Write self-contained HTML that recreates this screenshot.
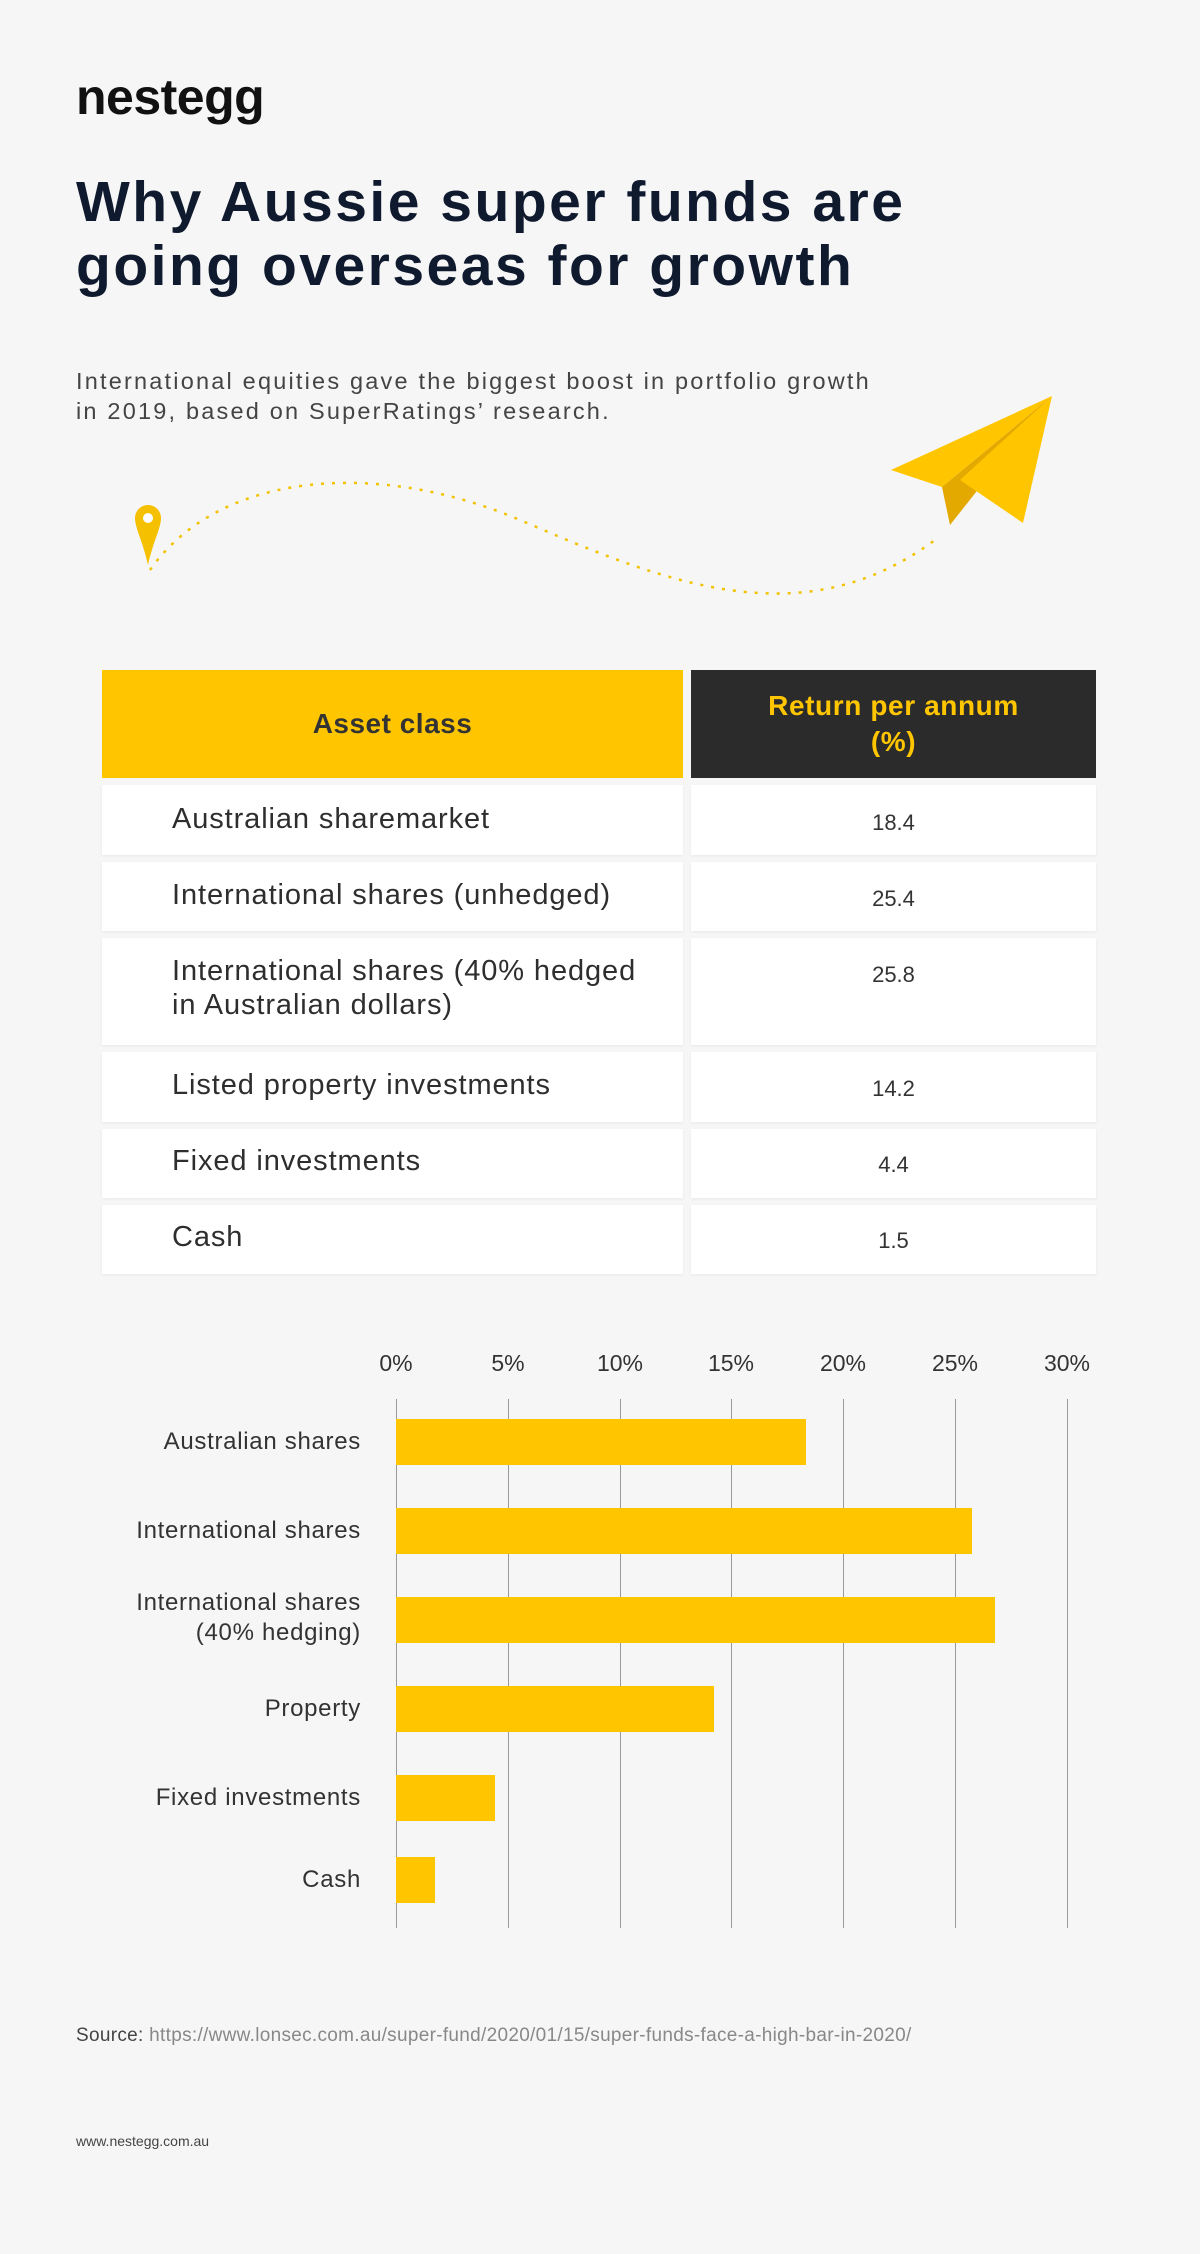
<!DOCTYPE html>
<html><head><meta charset="utf-8"><style>
*{margin:0;padding:0;box-sizing:border-box}
body{width:1200px;height:2254px;background:#f6f6f7;font-family:"Liberation Sans",sans-serif;position:relative;overflow:hidden}
.a{position:absolute}
.logo{left:76px;top:68px;font-size:50px;font-weight:bold;color:#111;letter-spacing:-0.5px}
.title{left:76px;top:170px;font-size:57px;font-weight:bold;color:#0f1a2e;line-height:64px;letter-spacing:2.5px}
.sub{left:76px;top:366px;font-size:23.5px;color:#444;line-height:30px;letter-spacing:2.2px}
.cell{position:absolute;background:#fff;box-shadow:0 1px 3px rgba(0,0,0,0.06)}
.lt{left:102px;width:581px}
.rt{left:691px;width:405px}
.lab{position:absolute;left:172px;font-size:29px;color:#2e2e2e;line-height:34px;letter-spacing:0.9px}
.val{position:absolute;left:691px;width:405px;text-align:center;font-size:22px;color:#333}
.cl{position:absolute;width:140px;left:221px;text-align:right;font-size:24px;color:#333;line-height:30px;letter-spacing:0.7px}
.tk{position:absolute;top:1350px;font-size:23px;color:#333;width:80px;text-align:center}
.grid{position:absolute;top:1399px;height:529px;width:1px;background:#999}
.bar{position:absolute;left:396px;height:46px;background:#ffc600}
</style></head><body>
<div class="a logo">nestegg</div>
<div class="a title">Why Aussie super funds are<br>going overseas for growth</div>
<div class="a sub">International equities gave the biggest boost in portfolio growth<br>in 2019, based on SuperRatings’ research.</div>
<svg class="a" style="left:0;top:0" width="1200" height="650">
<path d="M150 570 C 220 470, 380 460, 520 520 S 800 640, 935 540" fill="none" stroke="#f2c200" stroke-width="2.5" stroke-dasharray="3 8"/>
<path d="M148 505 a13 13 0 0 1 13 13 c0 10 -8 24 -13 47 c-5 -23 -13 -37 -13 -47 a13 13 0 0 1 13 -13z" fill="#f5c000"/>
<circle cx="148" cy="518" r="5" fill="#fff"/>
<polygon points="1052,396 891,470 942,487" fill="#ffc600"/>
<polygon points="1052,396 942,487 950,525" fill="#e3a900"/>
<polygon points="1052,396 960,480 1023,523" fill="#ffc600"/>
</svg>
<div class="a" style="left:102px;top:670px;width:581px;height:108px;background:#ffc600;text-align:center;line-height:108px;font-size:28px;font-weight:bold;color:#333;letter-spacing:0.5px">Asset class</div>
<div class="a" style="left:691px;top:670px;width:405px;height:108px;background:#2b2b2b;text-align:center;padding-top:18px;font-size:28px;font-weight:bold;color:#ffc600;line-height:36px;letter-spacing:0.6px">Return per annum<br>(%)</div>
<div class="cell lt" style="top:785px;height:70px"></div><div class="cell rt" style="top:785px;height:70px"></div>
<div class="cell lt" style="top:862px;height:69px"></div><div class="cell rt" style="top:862px;height:69px"></div>
<div class="cell lt" style="top:938px;height:107px"></div><div class="cell rt" style="top:938px;height:107px"></div>
<div class="cell lt" style="top:1052px;height:70px"></div><div class="cell rt" style="top:1052px;height:70px"></div>
<div class="cell lt" style="top:1129px;height:69px"></div><div class="cell rt" style="top:1129px;height:69px"></div>
<div class="cell lt" style="top:1205px;height:69px"></div><div class="cell rt" style="top:1205px;height:69px"></div>
<div class="lab" style="top:802px">Australian sharemarket</div><div class="val" style="top:810px">18.4</div>
<div class="lab" style="top:878px">International shares (unhedged)</div><div class="val" style="top:886px">25.4</div>
<div class="lab" style="top:954px">International shares (40% hedged<br>in Australian dollars)</div><div class="val" style="top:962px">25.8</div>
<div class="lab" style="top:1068px">Listed property investments</div><div class="val" style="top:1076px">14.2</div>
<div class="lab" style="top:1144px">Fixed investments</div><div class="val" style="top:1152px">4.4</div>
<div class="lab" style="top:1220px">Cash</div><div class="val" style="top:1228px">1.5</div>

<div class="tk" style="left:356px">0%</div><div class="tk" style="left:468px">5%</div><div class="tk" style="left:580px">10%</div><div class="tk" style="left:691px">15%</div><div class="tk" style="left:803px">20%</div><div class="tk" style="left:915px">25%</div><div class="tk" style="left:1027px">30%</div>
<div class="grid" style="left:396px"></div><div class="grid" style="left:508px"></div><div class="grid" style="left:620px"></div><div class="grid" style="left:731px"></div><div class="grid" style="left:843px"></div><div class="grid" style="left:955px"></div><div class="grid" style="left:1067px"></div>
<div class="bar" style="top:1419px;width:410px"></div>
<div class="bar" style="top:1508px;width:576px"></div>
<div class="bar" style="top:1597px;width:599px"></div>
<div class="bar" style="top:1686px;width:318px"></div>
<div class="bar" style="top:1775px;width:99px"></div>
<div class="bar" style="top:1857px;width:39px"></div>
<div class="cl" style="top:1427px;left:101px;width:260px">Australian shares</div>
<div class="cl" style="top:1516px;left:101px;width:260px">International shares</div>
<div class="cl" style="top:1588px;left:101px;width:260px">International shares<br>(40% hedging)</div>
<div class="cl" style="top:1694px">Property</div>
<div class="cl" style="top:1783px;left:101px;width:260px">Fixed investments</div>
<div class="cl" style="top:1865px">Cash</div>
<div class="a" style="left:76px;top:2025px;font-size:19px;color:#888;letter-spacing:0.3px"><span style="color:#444">Source:</span> https://www.lonsec.com.au/super-fund/2020/01/15/super-funds-face-a-high-bar-in-2020/</div>
<div class="a" style="left:76px;top:2133px;font-size:14px;color:#444">www.nestegg.com.au</div>
</body></html>
